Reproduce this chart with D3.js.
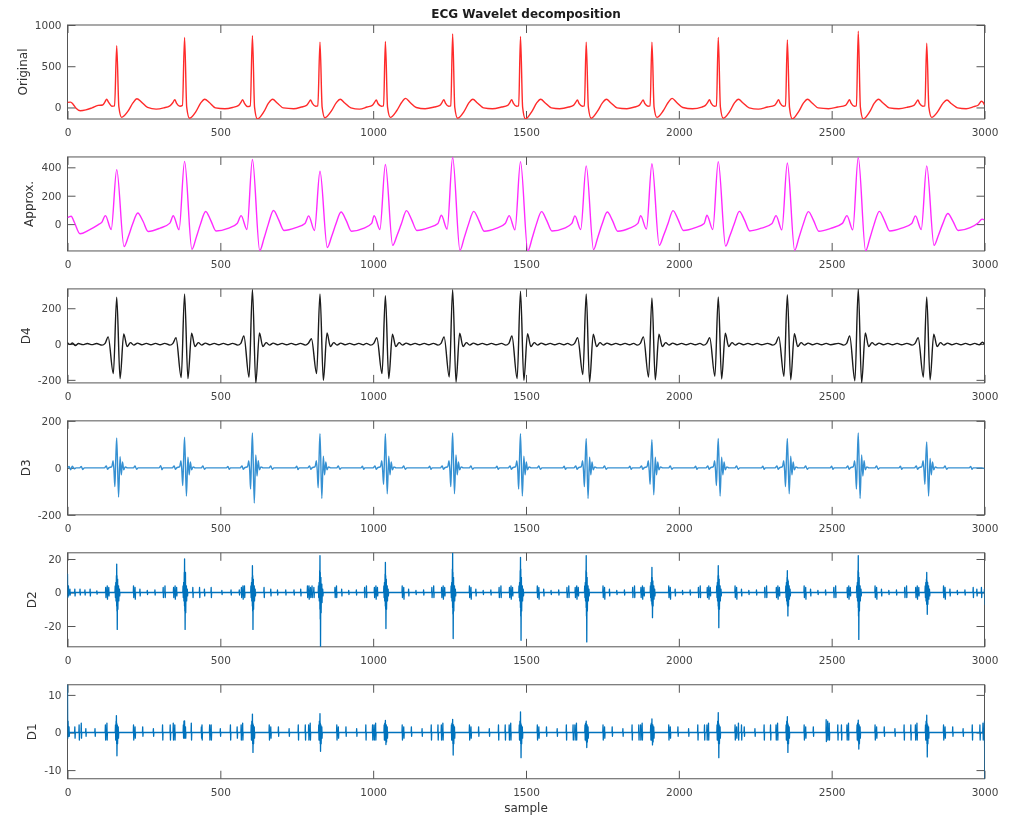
<!DOCTYPE html>
<html>
<head>
<meta charset="utf-8">
<script src="https://cdn.jsdelivr.net/npm/d3@7"></script>
<style>
body { margin: 0; background: #fff; }
svg { display: block; font-family: "DejaVu Sans", sans-serif; }
</style>
</head>
<body>
<svg id="chart" width="1009" height="817"></svg>
<script>
const sampleMax = 3000;
const xTicks = [0, 500, 1000, 1500, 2000, 2500, 3000];
const panelNames = ["Original", "Approx.", "D4", "D3", "D2", "D1"];
const panelColors = ["#ff2a2a", "#ff2aff", "#1a1a1a", "#3590d2", "#0072bd", "#0072bd"];
const yDomains = [[-140, 1000], [-189, 473], [-217, 308], [-200, 200], [-32.4, 23.7], [-12.3, 12.7]];
const yTicks = [[0, 500, 1000], [0, 200, 400], [-200, 0, 200], [-200, 0, 200], [-20, 0, 20], [-10, 0, 10]];

// [sample, value]
const original = [[0,62],[10,65],[18,40],[28,-10],[42,-40],[60,-30],[80,-5],[100,25],[115,30],[123,70],[128,100],[134,65],[145,15],[154,20],[161,750],[168,10],[177,-120],[198,-45],[214,55],[227,105],[242,65],[262,0],[290,-20],[315,-5],[335,20],[345,60],[351,95],[357,50],[368,15],[376,25],[383,850],[390,5],[399,-130],[420,-50],[436,55],[449,100],[464,60],[484,-5],[515,-15],[540,0],[560,25],[568,65],[573,95],[579,50],[590,10],[598,20],[605,870],[612,0],[621,-140],[642,-55],[658,55],[671,100],[686,55],[706,-5],[740,-15],[765,5],[782,25],[790,65],[795,90],[801,50],[812,15],[819,20],[826,790],[833,5],[842,-125],[863,-45],[879,55],[892,100],[907,55],[927,-5],[955,-20],[980,5],[997,25],[1005,65],[1010,90],[1016,45],[1027,15],[1034,20],[1040,800],[1047,5],[1056,-120],[1077,-40],[1093,60],[1106,110],[1121,60],[1141,0],[1170,-15],[1200,5],[1218,25],[1226,65],[1231,95],[1237,50],[1247,15],[1254,20],[1260,890],[1267,0],[1276,-130],[1297,-50],[1313,55],[1326,100],[1341,55],[1361,-5],[1390,-15],[1420,5],[1440,25],[1448,65],[1453,95],[1459,50],[1469,15],[1476,20],[1482,860],[1489,0],[1498,-140],[1519,-50],[1535,55],[1548,100],[1563,55],[1583,-5],[1610,-15],[1640,5],[1655,25],[1663,65],[1668,90],[1674,45],[1684,15],[1691,20],[1697,790],[1704,5],[1713,-130],[1734,-45],[1750,55],[1763,100],[1778,55],[1798,-5],[1830,-15],[1855,5],[1870,25],[1878,65],[1883,90],[1889,45],[1899,15],[1906,20],[1912,790],[1919,5],[1928,-120],[1949,-40],[1965,60],[1978,110],[1993,60],[2013,0],[2045,-15],[2075,5],[2087,25],[2095,65],[2100,95],[2106,50],[2116,15],[2123,20],[2129,850],[2136,5],[2145,-130],[2166,-50],[2182,55],[2195,100],[2210,55],[2230,-5],[2260,-20],[2290,5],[2313,25],[2321,65],[2326,95],[2332,50],[2342,15],[2349,20],[2355,820],[2362,0],[2371,-140],[2392,-50],[2408,55],[2421,100],[2436,55],[2456,-5],[2490,-15],[2520,5],[2545,25],[2553,65],[2558,95],[2564,50],[2574,15],[2581,20],[2587,925],[2594,0],[2603,-140],[2624,-55],[2640,55],[2653,100],[2668,55],[2688,-5],[2720,-15],[2750,5],[2769,25],[2777,65],[2782,90],[2788,45],[2798,15],[2805,20],[2811,780],[2818,5],[2827,-120],[2848,-45],[2864,50],[2877,90],[2892,45],[2912,-5],[2940,-15],[2965,10],[2980,30],[2990,75],[2996,60],[3000,30]];

const approx = [[0,45],[12,55],[22,15],[41,-68],[70,-42],[100,-5],[112,12],[124,60],[143,-38],[161,384],[185,-158],[199,-88],[213,0],[230,78],[247,20],[264,-52],[303,-28],[335,7],[346,59],[365,-40],[383,442],[407,-178],[421,-95],[435,0],[452,89],[469,25],[486,-48],[525,-30],[555,5],[568,60],[587,-38],[605,455],[629,-187],[643,-100],[657,0],[674,96],[691,30],[708,-45],[747,-25],[777,5],[789,58],[808,-45],[826,372],[850,-165],[864,-88],[878,0],[895,85],[912,25],[929,-50],[968,-30],[995,5],[1003,60],[1022,-38],[1040,420],[1064,-150],[1078,-80],[1092,0],[1109,95],[1126,30],[1143,-45],[1182,-25],[1212,5],[1223,62],[1242,-35],[1260,470],[1284,-185],[1298,-95],[1312,0],[1329,90],[1346,25],[1363,-50],[1402,-30],[1432,5],[1445,60],[1464,-40],[1482,440],[1506,-189],[1520,-100],[1534,0],[1551,88],[1568,25],[1585,-48],[1624,-30],[1650,5],[1660,58],[1679,-38],[1697,410],[1721,-180],[1735,-92],[1749,0],[1766,85],[1783,25],[1800,-50],[1839,-28],[1866,5],[1875,60],[1894,-35],[1912,425],[1936,-150],[1950,-80],[1964,0],[1981,95],[1998,30],[2015,-45],[2054,-25],[2083,5],[2092,62],[2111,-38],[2129,440],[2153,-155],[2167,-82],[2181,0],[2198,90],[2215,28],[2232,-48],[2271,-28],[2305,5],[2318,60],[2337,-40],[2355,430],[2379,-185],[2393,-95],[2407,0],[2424,88],[2441,25],[2458,-50],[2497,-30],[2535,5],[2550,60],[2569,-40],[2587,470],[2611,-188],[2625,-100],[2639,0],[2656,90],[2673,25],[2690,-48],[2729,-28],[2762,5],[2774,58],[2793,-38],[2811,410],[2835,-150],[2849,-80],[2863,0],[2880,75],[2897,20],[2914,-45],[2953,-25],[2980,10],[2992,35],[3000,30]];

const d4 = [[0,8],[8,-2],[16,6],[26,-8],[36,3],[50,-3],[65,3],[80,-3],[95,3],
[113,-6],[123,4],[133,40],[150,-165],[161,262],[172,-193],[184,57],[195,-14],[206,8],[217,-6],[229,5],[243,-4],[258,4],[273,-4],[288,4],[303,-4],[318,4],
[335,-6],[345,4],[355,35],[372,-187],[383,280],[394,-193],[406,60],[417,-14],[428,8],[439,-6],[451,5],[465,-4],[480,4],[495,-4],[510,4],[525,-4],[540,4],
[557,-6],[567,4],[577,45],[594,-185],[605,305],[616,-217],[628,62],[639,-14],[650,8],[661,-6],[673,5],[687,-4],[702,4],[717,-4],[732,4],[747,-4],[762,4],
[778,-6],[788,4],[798,30],[815,-165],[826,280],[837,-203],[849,62],[860,-14],[871,8],[882,-6],[894,5],[908,-4],[923,4],[938,-4],[953,4],[968,-4],[978,4],
[992,-6],[1002,4],[1012,35],[1029,-165],[1040,270],[1051,-193],[1063,55],[1074,-14],[1085,8],[1096,-6],[1108,5],[1122,-4],[1137,4],[1152,-4],[1167,4],[1182,-4],[1197,4],
[1212,-6],[1222,4],[1232,40],[1249,-184],[1260,304],[1271,-212],[1283,60],[1294,-14],[1305,8],[1316,-6],[1328,5],[1342,-4],[1357,4],[1372,-4],[1387,4],[1402,-4],[1420,4],
[1434,-6],[1444,4],[1454,45],[1471,-193],[1482,295],[1493,-203],[1505,58],[1516,-14],[1527,8],[1538,-6],[1550,5],[1564,-4],[1579,4],[1594,-4],[1609,4],[1624,-4],[1636,4],
[1649,-6],[1659,4],[1669,35],[1686,-170],[1697,280],[1708,-212],[1720,55],[1731,-14],[1742,8],[1753,-6],[1765,5],[1779,-4],[1794,4],[1809,-4],[1824,4],[1839,-4],[1852,4],
[1864,-6],[1874,4],[1884,40],[1901,-185],[1912,257],[1923,-200],[1935,55],[1946,-14],[1957,8],[1968,-6],[1980,5],[1994,-4],[2009,4],[2024,-4],[2039,4],[2054,-4],[2069,4],
[2081,-6],[2091,4],[2101,35],[2118,-180],[2129,263],[2140,-195],[2152,60],[2163,-14],[2174,8],[2185,-6],[2197,5],[2211,-4],[2226,4],[2241,-4],[2256,4],[2271,-4],[2290,4],
[2307,-6],[2317,4],[2327,40],[2344,-180],[2355,275],[2366,-200],[2378,58],[2389,-14],[2400,8],[2411,-6],[2423,5],[2437,-4],[2452,4],[2467,-4],[2482,4],[2497,-4],[2522,4],
[2539,-6],[2549,4],[2559,45],[2576,-205],[2587,308],[2598,-217],[2610,62],[2621,-14],[2632,8],[2643,-6],[2655,5],[2669,-4],[2684,4],[2699,-4],[2714,4],[2729,-4],[2746,4],
[2763,-6],[2773,4],[2783,35],[2800,-185],[2811,263],[2822,-200],[2834,55],[2845,-14],[2856,8],[2867,-6],[2879,5],[2893,-4],[2908,4],[2923,-4],[2938,4],[2953,-4],[2968,4],[2983,-4],[2993,10],[3000,0]];

const d3Level = [[0,0],[5,6],[10,-8],[16,7],[22,-4],[28,0],[40,0],[45,6],[50,-7],[55,0],
[121,0],[127,8],[131,-6],[135,0],[145,5],[149,30],[152,-10],[155,-80],[158,40],[161,127],[167,-124],[172,47],[176,-30],[180,25],[184,-8],[189,4],[196,0],[216,0],[221,8],[226,-6],[231,0],
[300,0],[305,9],[309,-8],[313,0],
[343,0],[349,8],[353,-6],[357,0],[367,5],[371,30],[374,-10],[377,-75],[380,40],[383,130],[389,-120],[394,45],[398,-30],[402,25],[406,-8],[411,4],[418,0],[438,0],[443,8],[448,-6],[453,0],
[520,0],[525,6],[529,-6],[533,0],
[565,0],[571,8],[575,-6],[579,0],[589,5],[593,30],[596,-10],[599,-90],[602,45],[605,148],[611,-150],[616,55],[620,-35],[624,30],[628,-8],[633,4],[640,0],[660,0],[665,8],[670,-6],[675,0],
[745,0],[750,7],[754,-7],[758,0],
[786,0],[792,8],[796,-6],[800,0],[810,5],[814,30],[817,-10],[820,-85],[823,40],[826,145],[832,-130],[837,50],[841,-30],[845,25],[849,-8],[854,4],[861,0],[881,0],[886,8],[891,-6],[896,0],
[960,0],[965,7],[969,-6],[973,0],
[1000,0],[1006,8],[1010,-6],[1014,0],[1024,5],[1028,30],[1031,-10],[1034,-70],[1037,40],[1040,145],[1046,-110],[1051,50],[1055,-30],[1059,25],[1063,-8],[1068,4],[1075,0],[1095,0],[1100,8],[1105,-6],[1110,0],
[1180,0],[1185,7],[1189,-6],[1193,0],
[1220,0],[1226,8],[1230,-6],[1234,0],[1244,5],[1248,30],[1251,-10],[1254,-80],[1257,45],[1260,148],[1266,-110],[1271,55],[1275,-30],[1279,25],[1283,-8],[1288,4],[1295,0],[1315,0],[1320,8],[1325,-6],[1330,0],
[1400,0],[1405,7],[1409,-6],[1413,0],
[1442,0],[1448,8],[1452,-6],[1456,0],[1466,5],[1470,30],[1473,-10],[1476,-90],[1479,45],[1482,145],[1488,-120],[1493,50],[1497,-30],[1501,25],[1505,-8],[1510,4],[1517,0],[1537,0],[1542,8],[1547,-6],[1552,0],
[1620,0],[1625,7],[1629,-6],[1633,0],
[1657,0],[1663,8],[1667,-6],[1671,0],[1681,5],[1685,30],[1688,-10],[1691,-80],[1694,40],[1697,125],[1703,-130],[1708,45],[1712,-30],[1716,25],[1720,-8],[1725,4],[1732,0],[1752,0],[1757,8],[1762,-6],[1767,0],
[1835,0],[1840,7],[1844,-6],[1848,0],
[1872,0],[1878,8],[1882,-6],[1886,0],[1896,5],[1900,30],[1903,-10],[1906,-70],[1909,40],[1912,120],[1918,-115],[1923,45],[1927,-30],[1931,25],[1935,-8],[1940,4],[1947,0],[1967,0],[1972,8],[1977,-6],[1982,0],
[2050,0],[2055,7],[2059,-6],[2063,0],
[2089,0],[2095,8],[2099,-6],[2103,0],[2113,5],[2117,30],[2120,-10],[2123,-75],[2126,40],[2129,125],[2135,-120],[2140,45],[2144,-30],[2148,25],[2152,-8],[2157,4],[2164,0],[2184,0],[2189,8],[2194,-6],[2199,0],
[2270,0],[2275,7],[2279,-6],[2283,0],
[2315,0],[2321,8],[2325,-6],[2329,0],[2339,5],[2343,30],[2346,-10],[2349,-80],[2352,40],[2355,125],[2361,-110],[2366,50],[2370,-30],[2374,25],[2378,-8],[2383,4],[2390,0],[2410,0],[2415,8],[2420,-6],[2425,0],
[2495,0],[2500,7],[2504,-6],[2508,0],
[2547,0],[2553,8],[2557,-6],[2561,0],[2571,5],[2575,30],[2578,-10],[2581,-90],[2584,45],[2587,148],[2593,-130],[2598,55],[2602,-35],[2606,30],[2610,-8],[2615,4],[2622,0],[2642,0],[2647,8],[2652,-6],[2657,0],
[2720,0],[2725,7],[2729,-6],[2733,0],
[2771,0],[2777,8],[2781,-6],[2785,0],[2795,5],[2799,30],[2802,-10],[2805,-70],[2808,40],[2811,110],[2817,-120],[2822,40],[2826,-30],[2830,25],[2834,-8],[2839,4],[2846,0],[2866,0],[2871,8],[2876,-6],[2881,0],
[2950,0],[2955,6],[2959,-6],[2963,0],[2990,0],[3000,-3]];

// bursts: [sample, high, low]
const d2Bursts = [[0,11,-3],[3,4,-2],[8,2,-1.5],[24,2,-2],[41,2,-1.5],[57,1.5,-1.5],[74,2,-2],[96,1,-1],
[125,3,-3],[130,4,-4],[135,3,-2],[156,4,-3],[158,6,-5],[160,10,-8],[161,17,-11],[162,10,-22],[164,8,-10],[167,4,-5],[170,2,-2],[216,4,-3],[221,3,-4],[237,2,-2],[261,1.2,-1.2],[286,1.5,-1.5],[313,3,-3],[319,4,-3],
[347,3,-3],[352,4,-4],[357,3,-2],[378,4,-3],[380,6,-5],[382,12,-8],[383,20,-11],[384,10,-22],[386,12,-12],[389,4,-5],[392,2,-2],[410,3,-3],[432,3,-3],[448,2,-2],[470,3,-3],[505,1.2,-1.2],[535,1.5,-1.5],[562,1.5,-1.5],
[569,3,-3],[574,4,-4],[579,4,-3],[600,4,-3],[602,6,-5],[604,9,-8],[605,16,-11],[606,10,-22],[608,8,-10],[611,4,-5],[614,2,-2],[643,3,-3],[665,2,-2],[687,1.5,-1.5],[714,1.5,-1.5],[741,1.5,-1.5],[763,2,-2],
[785,4,-3],[790,4,-4],[795,3,-3],[800,4,-3],[806,3,-3],[821,4,-3],[823,6,-5],[825,13,-10],[826,22,-16],[827,12,-32.4],[829,9,-12],[832,5,-6],[835,2,-2],[875,3,-3],[880,4,-3],[897,2,-2],[920,1.2,-1.2],[945,1.5,-1.5],[972,3,-3],[978,4,-3],
[1004,3,-3],[1009,4,-4],[1014,3,-2],[1035,4,-3],[1037,6,-5],[1039,11,-8],[1040,18,-10],[1041,10,-21.5],[1043,8,-10],[1046,4,-5],[1049,2,-2],[1095,4,-3],[1100,3,-4],[1116,2,-2],[1140,1.2,-1.2],[1165,1.5,-1.5],[1192,3,-3],[1198,4,-3],
[1224,3,-3],[1229,4,-4],[1234,3,-2],[1255,4,-3],[1257,6,-5],[1259,14,-9],[1260,23.7,-13],[1261,12,-27.5],[1263,9,-11],[1266,4,-5],[1269,2,-2],[1315,4,-3],[1320,3,-4],[1336,2,-2],[1360,1.2,-1.2],[1385,1.5,-1.5],[1412,3,-3],[1418,4,-3],
[1446,3,-3],[1451,4,-4],[1456,3,-2],[1477,4,-3],[1479,6,-5],[1481,13,-9],[1482,21,-14],[1483,14,-28.5],[1485,9,-11],[1488,4,-5],[1491,2,-2],[1537,4,-3],[1542,3,-4],[1558,2,-2],[1582,1.2,-1.2],[1607,1.5,-1.5],[1634,3,-3],[1640,4,-3],
[1661,3,-3],[1666,4,-4],[1671,3,-2],[1692,4,-3],[1694,6,-5],[1696,13,-9],[1697,22,-14],[1698,12,-29.5],[1700,9,-11],[1703,4,-5],[1706,2,-2],[1752,4,-3],[1757,3,-4],[1773,2,-2],[1797,1.2,-1.2],[1822,1.5,-1.5],[1849,3,-3],[1855,4,-3],
[1876,3,-3],[1881,4,-4],[1886,3,-2],[1907,4,-3],[1909,6,-5],[1911,9,-7],[1912,15,-8],[1913,9,-15],[1915,7,-8],[1918,4,-4],[1921,2,-2],[1967,4,-3],[1972,3,-4],[1988,2,-2],[2012,1.2,-1.2],[2037,1.5,-1.5],[2064,3,-3],[2070,4,-3],
[2093,3,-3],[2098,4,-4],[2103,3,-2],[2124,4,-3],[2126,6,-5],[2128,10,-8],[2129,16,-10],[2130,10,-21],[2132,8,-10],[2135,4,-5],[2138,2,-2],[2184,4,-3],[2189,3,-4],[2205,2,-2],[2229,1.2,-1.2],[2254,1.5,-1.5],[2281,3,-3],[2287,4,-3],
[2319,3,-3],[2324,4,-4],[2329,3,-2],[2350,4,-3],[2352,6,-5],[2354,9,-7],[2355,13,-8],[2356,8,-14],[2358,7,-8],[2361,4,-4],[2364,2,-2],[2410,4,-3],[2415,3,-4],[2431,2,-2],[2455,1.2,-1.2],[2480,1.5,-1.5],[2507,3,-3],[2513,4,-3],
[2551,3,-3],[2556,4,-4],[2561,3,-2],[2582,4,-3],[2584,6,-5],[2586,13,-9],[2587,22,-14],[2588,12,-28],[2590,9,-11],[2593,4,-5],[2596,2,-2],[2642,4,-3],[2647,3,-4],[2663,2,-2],[2687,1.2,-1.2],[2712,1.5,-1.5],[2739,3,-3],[2745,4,-3],
[2775,3,-3],[2780,4,-4],[2785,3,-2],[2806,4,-3],[2808,6,-5],[2810,8,-7],[2811,12,-7],[2812,7,-13],[2814,6,-7],[2817,4,-4],[2820,2,-2],[2866,4,-3],[2871,3,-4],[2887,2,-2],[2911,1.2,-1.2],[2936,1.5,-1.5],[2963,3,-3],[2975,2,-2],[2990,3,-3],[3000,2,-7]];

const d1Bursts = [[0,12.7,-1.5],[2,3,-1],[5,1.5,-1],[24,1.5,-1.5],[38,2,-2],[45,2.5,-1.5],[60,1,-1],[90,1,-1],
[124,2,-2],[129,2.5,-2],[157,2,-2],[159,3,-2],[160,4.5,-3],[161,2.5,-6.2],[163,2,-3],[166,1.5,-1.5],[216,2,-2],[221,1.5,-1.5],[246,1.5,-1],[281,1,-1],[311,2,-2],[336,2,-2],
[346,2.5,-2],[351,2,-2],[379,2,-1.5],[381,3,-1.5],[383,3.1,-1],[384,1.5,-1.5],[386,1.5,-1.5],[405,2.5,-2],[438,1.5,-1.5],[440,2,-2],[465,2,-2],[470,2,-2],[500,1,-1],[533,2,-2],[555,1.5,-1.5],
[568,2,-2],[573,2.5,-2],[601,2,-2],[603,3,-2],[605,4.9,-3],[606,2.5,-5.3],[608,2,-3],[611,1.5,-1.5],[660,2,-2],[665,1.5,-1.5],[690,1.5,-1],[725,1,-1],[755,2,-2],[778,2,-2],
[789,2,-2],[794,2.5,-2],[822,2,-2],[824,3,-2],[826,5,-3],[827,2.5,-5],[829,2,-3],[832,1.5,-1.5],[881,2,-2],[886,1.5,-1.5],[911,1.5,-1],[946,1,-1],[976,2,-2],[998,2,-2],
[1003,2,-2],[1008,2.5,-2],[1036,2,-2],[1038,2.5,-2],[1040,3.2,-2],[1041,2,-3.2],[1043,2,-2.5],[1046,1.5,-1.5],[1095,2,-2],[1100,1.5,-1.5],[1125,1.5,-1],[1160,1,-1],[1190,2,-2],[1212,2,-2],
[1223,2,-2],[1228,2.5,-2],[1256,2,-2],[1258,2.5,-2],[1260,3.5,-3],[1261,2,-6],[1263,2,-3],[1266,1.5,-1.5],[1315,2,-2],[1320,1.5,-1.5],[1345,1.5,-1],[1380,1,-1],[1410,2,-2],[1432,2,-2],
[1445,2,-2],[1450,2.5,-2],[1478,2,-2],[1480,3,-2],[1482,5.5,-3],[1483,2.5,-6.7],[1485,2,-3],[1488,1.5,-1.5],[1537,2,-2],[1542,1.5,-1.5],[1567,1.5,-1],[1602,1,-1],[1632,2,-2],[1654,2,-2],
[1660,2,-2],[1665,2.5,-2],[1693,2,-2],[1695,2.5,-2],[1697,3,-2.5],[1698,2,-4],[1700,2,-2.5],[1703,1.5,-1.5],[1752,2,-2],[1757,1.5,-1.5],[1782,1.5,-1],[1817,1,-1],[1847,2,-2],[1869,2,-2],
[1875,2,-2],[1880,2.5,-2],[1908,2,-2],[1910,2.5,-2],[1912,3.6,-2],[1913,2,-3.3],[1915,2,-2.5],[1918,1.5,-1.5],[1967,2,-2],[1972,1.5,-1.5],[1997,1.5,-1],[2032,1,-1],[2062,2,-2],[2084,2,-2],
[2092,2,-2],[2097,2.5,-2],[2125,2,-2],[2127,3,-2],[2129,5.3,-3],[2130,2.5,-6.7],[2132,2,-3],[2135,1.5,-1.5],[2184,2,-2],[2189,1.5,-1.5],[2195,2.5,-2],[2205,2,-2],[2214,1.5,-1],[2249,1,-1],[2279,2,-2],[2300,2,-2],
[2318,2,-2],[2323,2.5,-2],[2351,2,-2],[2353,3,-2],[2355,4.2,-3],[2356,2.5,-5.3],[2358,2,-3],[2361,1.5,-1.5],[2410,2,-2],[2415,1.5,-1.5],[2440,1.5,-1],[2482,3.4,-2.4],[2487,3,-2],[2492,2.5,-2],[2520,2,-2],[2532,2,-2],
[2550,2,-2],[2555,2.5,-2],[2583,2,-2],[2585,2.5,-2],[2587,3.3,-2.5],[2588,2,-4.4],[2590,2,-3],[2593,1.5,-1.5],[2642,2,-2],[2647,1.5,-1.5],[2672,1.5,-1],[2707,1,-1],[2737,2,-2],[2759,2,-2],
[2774,2,-2],[2779,2.5,-2],[2807,2,-2],[2809,3,-2],[2811,4.6,-3],[2812,2.5,-6.5],[2814,2,-3],[2817,1.5,-1.5],[2866,2,-2],[2871,1.5,-1.5],[2896,1.5,-1],[2930,1,-1],[2960,2,-2],[2985,2,-2],[2995,2.5,-2],[3000,3,-12.3]];

const series = [original, approx, d4, d3Level, d2Bursts, d1Bursts];

const svg = d3.select("#chart");
const left = 67.5, right = 984.5, top0 = 25, step = 131.95, plotH = 94;
const plotW = right - left;
const axisColor = "#555555";
const textColor = "#444444";

svg.append("defs").append("filter").attr("id", "soft")
    .append("feGaussianBlur").attr("stdDeviation", 0.45);
const root = svg.append("g").attr("filter", "url(#soft)");
root.append("rect").attr("width", 1009).attr("height", 817).attr("fill", "#fff");

const x = d3.scaleLinear().domain([0, sampleMax]).range([0, plotW]);

function styleAxis(g) {
    g.select(".domain").remove();
    g.attr("font-family", null).attr("font-size", null);
    g.selectAll(".tick line").attr("stroke", axisColor);
    g.selectAll(".tick text").attr("fill", textColor).style("font-size", "10.5px");
}

series.forEach(function (data, k) {
    const g = root.append("g")
        .attr("transform", "translate(" + left + "," + (top0 + k * step) + ")");
    const y = d3.scaleLinear().domain(yDomains[k]).range([plotH, 0]);

    g.append("clipPath").attr("id", "clip" + k)
        .append("rect").attr("width", plotW).attr("height", plotH);

    g.append("rect")
        .attr("width", plotW).attr("height", plotH)
        .attr("fill", "none").attr("stroke", axisColor).attr("stroke-width", 1);

    g.append("g").attr("transform", "translate(0," + plotH + ")")
        .call(d3.axisBottom(x).tickValues(xTicks).tickSize(-8).tickPadding(10).tickFormat(d => String(d)))
        .call(styleAxis);
    g.append("g")
        .call(d3.axisTop(x).tickValues(xTicks).tickSize(-8).tickFormat(""))
        .call(styleAxis);
    const yAxis = g.append("g")
        .call(d3.axisLeft(y).tickValues(yTicks[k]).tickSize(-8).tickPadding(6).tickFormat(d => String(d)))
        .call(styleAxis);
    g.append("g").attr("transform", "translate(" + plotW + ",0)")
        .call(d3.axisRight(y).tickValues(yTicks[k]).tickSize(-8).tickFormat(""))
        .call(styleAxis);

    let pts = data;
    let curve = d3.curveMonotoneX;
    if (k >= 4) {
        // each burst: out to its high, down to its low, back to zero
        pts = data.flatMap(b => [[b[0] - 0.8, 0], [b[0], b[1]], [b[0] + 0.8, b[2]], [b[0] + 1.6, 0]]);
        curve = d3.curveLinear;
    }
    const line = d3.line()
        .x(d => x(d[0]))
        .y(d => y(d[1]))
        .curve(curve);
    g.append("path")
        .datum(pts)
        .attr("clip-path", "url(#clip" + k + ")")
        .attr("d", line)
        .attr("fill", "none")
        .attr("stroke", panelColors[k])
        .attr("stroke-width", k >= 4 ? 1.3 : 1.4)
        .attr("stroke-linejoin", "round");

    let minX = 0;
    yAxis.selectAll(".tick text").each(function () {
        const b = this.getBBox();
        minX = Math.min(minX, b.x);
    });
    g.append("text")
        .attr("transform", "translate(" + (minX - 8) + "," + (plotH / 2) + ") rotate(-90)")
        .attr("text-anchor", "middle")
        .attr("fill", "#333333")
        .style("font-size", "12px")
        .text(panelNames[k]);
});

root.append("text")
    .attr("x", left + plotW / 2)
    .attr("y", 18)
    .attr("text-anchor", "middle")
    .attr("fill", "#1a1a1a")
    .style("font-size", "12px")
    .style("font-weight", "bold")
    .text("ECG Wavelet decomposition");

root.append("text")
    .attr("x", left + plotW / 2)
    .attr("y", 812)
    .attr("text-anchor", "middle")
    .attr("fill", "#333333")
    .style("font-size", "12px")
    .text("sample");
</script>
</body>
</html>
